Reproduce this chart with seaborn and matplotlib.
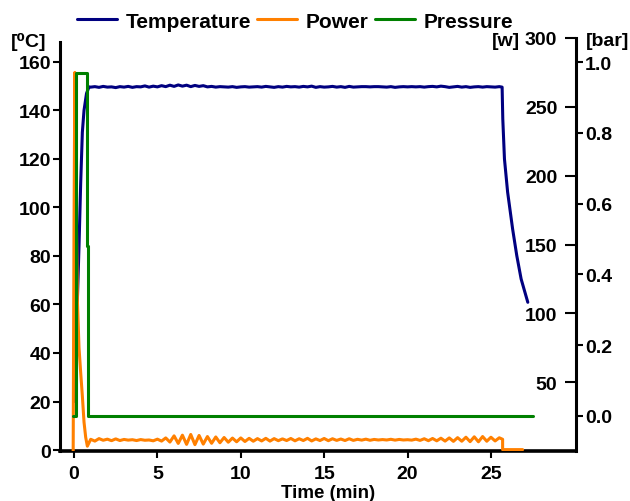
import numpy as np
import pandas as pd
import matplotlib
matplotlib.use("Agg")
import matplotlib.pyplot as plt
import seaborn as sns
from matplotlib.lines import Line2D

# ---------------- data ----------------
time_plateau = [
    1.0, 1.25, 1.5, 1.75, 2.0, 2.25, 2.5, 2.75, 3.0, 3.25,
    3.5, 3.75, 4.0, 4.25, 4.5, 4.75, 5.0, 5.25, 5.5, 5.75,
    6.0, 6.25, 6.5, 6.75, 7.0, 7.25, 7.5, 7.75, 8.0, 8.25,
    8.5, 8.75, 9.0, 9.25, 9.5, 9.75, 10.0, 10.25, 10.5, 10.75,
    11.0, 11.25, 11.5, 11.75, 12.0, 12.25, 12.5, 12.75, 13.0, 13.25,
    13.5, 13.75, 14.0, 14.25, 14.5, 14.75, 15.0, 15.25, 15.5, 15.75,
    16.0, 16.25, 16.5, 16.75, 17.0, 17.25, 17.5, 17.75, 18.0, 18.25,
    18.5, 18.75, 19.0, 19.25, 19.5, 19.75, 20.0, 20.25, 20.5, 20.75,
    21.0, 21.25, 21.5, 21.75, 22.0, 22.25, 22.5, 22.75, 23.0, 23.25,
    23.5, 23.75, 24.0, 24.25, 24.5, 24.75, 25.0, 25.25, 25.5,
]

temp_start_t = [0.0, 0.15, 0.3, 0.4, 0.5, 0.6, 0.75, 0.9]
temp_start_v = [20, 50, 84, 110, 131, 140, 147, 149.7]
temp_plateau_v = [
    149.6, 149.8, 149.5, 149.9, 149.6, 149.7, 149.4, 149.8, 149.6, 149.9,
    149.5, 149.8, 149.7, 150.1, 149.6, 150.0, 149.7, 150.2, 149.8, 150.4,
    149.9, 150.5, 150.0, 150.4, 149.8, 150.3, 149.9, 150.2, 149.7, 149.9,
    149.6, 149.8, 149.7, 149.6, 149.8, 149.5, 149.7, 149.8, 149.6, 149.7,
    149.8, 149.6, 149.9, 149.7, 149.5, 149.8, 149.6, 149.9, 149.7, 149.8,
    149.6, 149.9, 149.7, 150.0, 149.5, 149.8, 149.6, 149.7, 149.9, 149.6,
    149.8, 149.5, 149.9, 149.6, 149.7, 149.8, 149.8, 149.7, 149.8, 149.8,
    149.7, 149.6, 149.8, 149.5, 149.7, 149.8, 149.7, 149.8, 149.7, 149.8,
    149.6, 149.8, 149.9, 149.7, 150.0, 149.8, 149.5, 149.7, 149.9, 149.6,
    149.8, 149.5, 149.7, 149.8, 149.6, 149.8, 149.7, 149.6, 149.8,
]
temp_end_t = [25.67, 25.71, 25.81, 26.0, 26.3, 26.55, 26.81, 27.21]
temp_end_v = [149.6, 136.5, 120.0, 106.3, 91.1, 80.1, 70.5, 60.9]

power_start_t = [-0.05, 0.0, 0.05, 0.1, 0.2, 0.3, 0.4, 0.5, 0.6, 0.7, 0.8, 0.9]
power_start_v = [0, 160, 275, 214, 110, 75, 57, 40, 21, 10, 3.5, 6]
power_plateau_v = [
    8.5, 7.2, 9.0, 7.8, 8.6, 7.5, 8.8, 7.6, 8.4, 7.9,
    8.2, 7.6, 8.3, 7.8, 8.0, 7.4, 8.6, 7.2, 9.5, 6.5,
    11.0, 5.5, 11.5, 4.8, 12.0, 4.6, 11.3, 5.0, 10.5, 5.6,
    10.2, 6.0, 9.8, 6.4, 9.4, 6.7, 9.5, 6.9, 9.2, 7.1,
    9.0, 7.3, 9.2, 7.2, 9.0, 7.5, 8.8, 7.6, 9.1, 7.4,
    8.9, 7.6, 9.2, 7.3, 8.8, 7.6, 9.1, 7.5, 8.9, 7.7,
    8.7, 7.6, 8.9, 7.7, 8.5, 7.9, 8.6, 7.8, 8.4, 8.0,
    8.3, 8.0, 8.5, 7.9, 8.4, 8.0, 8.2, 7.9, 8.6, 7.7,
    8.9, 7.5, 9.1, 7.4, 9.3, 7.2, 9.5, 7.0, 9.7, 7.1,
    10.0, 6.8, 10.3, 6.7, 10.5, 7.1, 10.0, 7.3, 9.6,
]
power_end_t = [25.7, 25.7, 26.9]
power_end_v = [8.5, 1.0, 1.0]

pressure_t = [-0.05, 0.1, 0.1, 0.78, 0.78, 0.84, 0.84, 27.5]
pressure_v = [0.0, 0.0, 0.97, 0.97, 0.48, 0.48, 0.0, 0.0]

x_ticks = [0, 5, 10, 15, 20, 25]
temp_ticks = [0, 20, 40, 60, 80, 100, 120, 140, 160]
power_ticks = [50, 100, 150, 200, 250, 300]
pressure_ticks = [0.0, 0.2, 0.4, 0.6, 0.8, 1.0]
series_names = ["Temperature", "Power", "Pressure"]

temp_df = pd.DataFrame({"time": temp_start_t + time_plateau + temp_end_t,
                        "value": temp_start_v + temp_plateau_v + temp_end_v})
power_df = pd.DataFrame({"time": power_start_t + time_plateau + power_end_t,
                         "value": power_start_v + power_plateau_v + power_end_v})
pressure_df = pd.DataFrame({"time": pressure_t, "value": pressure_v})

# ---------------- style ----------------
sns.set_theme(style="white")
plt.rcParams["font.family"] = ["Liberation Sans", "DejaVu Sans"]
plt.rcParams["font.weight"] = "bold"
plt.rcParams["text.color"] = "black"

C_T = "#000080"
C_P = "#ff8000"
C_B = "#008000"
LW = 2.2
FS = 14

W, H = 630, 502
fig = plt.figure(figsize=(6.3, 5.02), dpi=100)
L = 60 / W
B = (H - 452) / H
AW = (576 - 60) / W
ax = fig.add_axes([L, B, AW, (452 - 43) / H])
ax2 = fig.add_axes([L, B, AW, (452 - 39) / H], sharex=ax)
ax3 = fig.add_axes([L, B, AW, (452 - 39) / H], sharex=ax)
for a in (ax2, ax3):
    a.patch.set_visible(False)

sns.lineplot(data=temp_df, x="time", y="value", ax=ax, color=C_T, lw=LW,
             estimator=None, sort=False)
sns.lineplot(data=power_df, x="time", y="value", ax=ax2, color=C_P, lw=LW,
             estimator=None, sort=False)
sns.lineplot(data=pressure_df, x="time", y="value", ax=ax3, color=C_B, lw=LW,
             estimator=None, sort=False)
for a in (ax, ax2, ax3):
    for ln in a.get_lines():
        ln.set_solid_joinstyle("round")
    a.set_xlabel("")
    a.set_ylabel("")

ax.set_xlim(-0.84, 30.1)
ax.set_ylim(-0.4, 168.2)
ax2.set_ylim(0, 300)
ax3.set_ylim(-0.0989, 1.0678)

# main axis
for s in ("top", "right"):
    ax.spines[s].set_visible(False)
ax.spines["left"].set_linewidth(2.2)
ax.spines["bottom"].set_linewidth(2.6)
for s in ax.spines.values():
    s.set_color("black")
ax.set_xticks(x_ticks)
ax.set_yticks(temp_ticks)
ax.tick_params(axis="both", direction="out", length=5, width=1.5, colors="black",
               labelsize=FS, pad=1.5, left=True, bottom=True)
ax.tick_params(axis="x", pad=5)

# power axis (ticks to the left of right spine)
for s in ("top", "left", "bottom"):
    ax2.spines[s].set_visible(False)
ax2.spines["right"].set_linewidth(2.2)
ax2.spines["right"].set_color("black")
ax2.yaxis.tick_right()
ax2.set_yticks(power_ticks)
ax2.tick_params(axis="y", direction="in", length=8, width=1.5, colors="black",
                labelsize=FS, pad=-13.5, right=True)
ax2.tick_params(axis="x", bottom=False, labelbottom=False)
plt.setp(ax2.get_yticklabels(), ha="right", fontweight="bold")

# pressure axis (ticks to the right)
for s in ax3.spines.values():
    s.set_visible(False)
ax3.yaxis.tick_right()
ax3.set_yticks(pressure_ticks)
ax3.set_yticklabels([f"{v:.1f}" for v in pressure_ticks])
ax3.tick_params(axis="y", direction="out", length=5, width=1.5, colors="black",
                labelsize=FS, pad=1.5, right=True)
ax3.tick_params(axis="x", bottom=False, labelbottom=False)

# unit labels
fig.text(11 / W, 1 - 42 / H, "[⁰C]", fontsize=FS, fontweight="bold",
         ha="left", va="center")
fig.text(520 / W, 1 - 41 / H, "[w]", fontsize=FS, fontweight="bold",
         ha="right", va="center")
fig.text(586 / W, 1 - 41 / H, "[bar]", fontsize=FS, fontweight="bold",
         ha="left", va="center")
fig.text(328 / W, 1 - 494 / H, "Time (min)", fontsize=13.5, fontweight="bold",
         ha="center", va="center")

handles = [Line2D([], [], color=c, lw=LW) for c in (C_T, C_P, C_B)]
fig.legend(handles, series_names, loc="center left",
           bbox_to_anchor=(77 / W, 1 - 22 / H), ncol=3, frameon=False,
           fontsize=15, handlelength=1.9, handletextpad=0.43,
           columnspacing=0.3, borderpad=0, borderaxespad=0)

fig.savefig("out.png", dpi=100)
